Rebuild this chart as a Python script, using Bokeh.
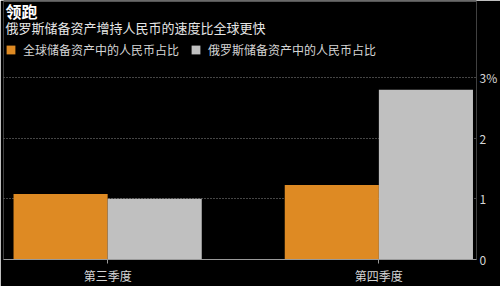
from bokeh.plotting import figure
from bokeh.models import Range1d, Legend, LegendItem, Label, Span, FixedTicker, ColumnDataSource
from bokeh.embed import file_html
from bokeh.resources import INLINE

title = "领跑"
subtitle = "俄罗斯储备资产增持人民币的速度比全球更快"
quarters = ["第三季度", "第四季度"]
global_share = [1.08, 1.23]
russia_share = [1.0, 2.8]
series_names = ["全球储备资产中的人民币占比", "俄罗斯储备资产中的人民币占比"]
y_ticks = [0, 1, 2, 3]
y_tick_labels = ["0", "1", "2", "3%"]

FONT = "Noto Sans CJK SC"
ORANGE = "#DE8A23"
GRAY = "#C0C0C0"
TXT = "#D6D6D6"
Y_END = 4.27

xs = list(range(len(quarters)))
w = 0.347
src = ColumnDataSource(dict(
    x1=[x - w / 2 for x in xs], x2=[x + w / 2 for x in xs],
    g=global_share, r=russia_share))

p = figure(width=500, height=286, output_backend="svg", toolbar_location=None,
           x_range=Range1d(-0.384, 1.36), y_range=Range1d(0, Y_END),
           y_axis_location="right", min_border_left=3, min_border_right=0,
           min_border_top=0, min_border_bottom=0)
p.title = None
p.background_fill_color = "black"
p.border_fill_color = "black"
p.outline_line_color = None

rg = p.vbar(x="x1", top="g", width=w, bottom=0, source=src, fill_color=ORANGE, line_color=None)
rr = p.vbar(x="x2", top="r", width=w, bottom=0, source=src, fill_color=GRAY, line_color=None)

# axes
p.xaxis.ticker = FixedTicker(ticks=xs)
p.xaxis.major_label_overrides = {i: q for i, q in enumerate(quarters)}
p.xaxis.major_label_text_font = FONT
p.xaxis.major_label_text_font_size = "12px"
p.xaxis.major_label_text_color = TXT
p.xaxis.axis_line_color = "#9A9A9A"
p.xaxis.major_tick_line_color = "#9A9A9A"
p.xaxis.major_tick_out = 4
p.xaxis.major_tick_in = 0
p.xaxis.minor_tick_line_color = None
p.xaxis.major_label_standoff = 3

p.yaxis.ticker = FixedTicker(ticks=y_ticks)
p.yaxis.major_label_overrides = {t: l for t, l in zip(y_ticks, y_tick_labels)}
p.yaxis.major_label_text_font = FONT
p.yaxis.major_label_text_font_size = "12px"
p.yaxis.major_label_text_color = TXT
p.yaxis.axis_line_color = None
p.yaxis.major_tick_line_color = None
p.yaxis.minor_tick_line_color = None
p.yaxis.major_tick_out = 0
p.yaxis.major_tick_in = 0
p.yaxis.major_label_standoff = 3

p.xgrid.grid_line_color = None
p.ygrid.grid_line_color = "#8A8A8A"
p.ygrid.grid_line_dash = "1 2"
p.ygrid.grid_line_width = 1

# thin rule at the very top
p.add_layout(Span(location=Y_END, dimension="width", line_color="#555555", line_width=3))

p.add_layout(Label(x=2, y=249, x_units="screen", y_units="screen", text=title,
                   text_font=FONT, text_font_size="16px", text_font_style="bold",
                   text_color="white", text_baseline="middle"))
p.add_layout(Label(x=2, y=232, x_units="screen", y_units="screen", text=subtitle,
                   text_font=FONT, text_font_size="13px", text_color="#E6E6E6",
                   text_baseline="middle"))

legend = Legend(items=[LegendItem(label=series_names[0], renderers=[rg]),
                       LegendItem(label=series_names[1], renderers=[rr])],
                orientation="horizontal", location=(2, 201),
                background_fill_color="black", background_fill_alpha=0,
                border_line_color=None,
                label_text_font=FONT, label_text_font_size="12px", label_text_color=TXT,
                glyph_width=11, glyph_height=11, label_height=11,
                spacing=11, padding=0, margin=0, label_standoff=7)
p.add_layout(legend, "center")

open("out.html", "w").write(file_html(p, INLINE))
